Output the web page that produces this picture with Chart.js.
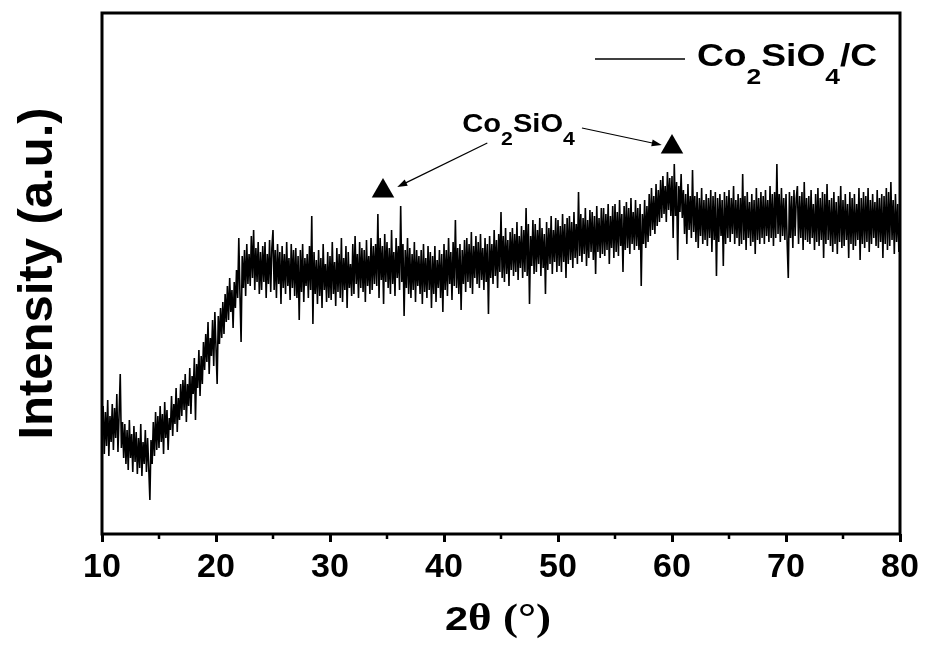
<!DOCTYPE html>
<html>
<head>
<meta charset="utf-8">
<title>Co2SiO4/C XRD</title>
<script src="https://cdn.jsdelivr.net/npm/chart.js@4.4.1/dist/chart.umd.min.js"></script>
<style>
  html, body { margin: 0; padding: 0; background: #fff; }
  canvas { display: block; }
</style>
</head>
<body>
<canvas id="xrd" width="925" height="653"></canvas>
<script>
// 2-theta scan, 10 to 80 deg, one reading every 0.1 deg (intensity in a.u.)
const twoThetaStart = 10;
const twoThetaStep = 0.1;
const intensity = [
  98, 128, 80, 122, 88, 134, 78, 118, 92, 130,      // 10
  84, 126, 96, 140, 82, 120, 160, 86, 112, 76,      // 11
  110, 70, 104, 64, 114, 76, 100, 62, 108, 72,      // 12
  102, 60, 96, 66, 110, 58, 92, 70, 104, 62,        // 13
  96, 66, 34, 94, 70, 112, 78, 122, 84, 118,        // 14
  86, 128, 92, 120, 80, 132, 96, 124, 84, 116,      // 15
  104, 138, 98, 130, 110, 146, 102, 136, 114, 150,  // 16
  118, 154, 124, 160, 112, 150, 128, 166, 120, 158, // 17
  140, 176, 114, 170, 146, 184, 138, 178, 150, 192, // 18
  164, 200, 172, 212, 160, 196, 178, 214, 168, 222, // 19
  186, 150, 218, 190, 226, 196, 232, 200, 240, 212, // 20
  248, 214, 256, 222, 244, 206, 252, 226, 264, 236, // 21
  296, 240, 192, 278, 246, 284, 238, 290, 250, 280, // 22
  248, 298, 256, 304, 244, 286, 252, 292, 240, 282, // 23
  244, 288, 252, 292, 236, 280, 250, 294, 242, 286, // 24
  304, 244, 284, 236, 290, 250, 282, 230, 288, 246, // 25
  280, 240, 292, 248, 276, 234, 290, 246, 284, 238, // 26
  286, 236, 278, 214, 284, 242, 290, 232, 276, 248, // 27
  280, 236, 288, 244, 318, 210, 282, 240, 274, 230, // 28
  284, 238, 276, 226, 290, 244, 270, 232, 282, 236, // 29
  278, 234, 292, 240, 272, 228, 286, 242, 280, 236, // 30
  296, 232, 276, 244, 288, 226, 282, 246, 270, 238, // 31
  290, 240, 298, 250, 280, 236, 292, 246, 286, 242, // 32
  284, 232, 294, 248, 278, 240, 296, 244, 288, 250, // 33
  290, 248, 320, 236, 296, 254, 288, 230, 300, 252, // 34
  292, 246, 286, 240, 304, 250, 282, 238, 296, 256, // 35
  288, 244, 328, 252, 290, 218, 284, 246, 296, 240, // 36
  286, 236, 280, 244, 292, 232, 284, 248, 278, 240, // 37
  284, 230, 290, 242, 276, 236, 288, 244, 282, 226, // 38
  278, 240, 288, 232, 274, 246, 284, 236, 280, 222, // 39
  290, 244, 284, 238, 296, 250, 282, 234, 292, 248, // 40
  314, 246, 286, 240, 290, 224, 284, 250, 294, 242, // 41
  296, 252, 290, 246, 302, 240, 288, 256, 298, 250, // 42
  292, 246, 300, 254, 286, 244, 296, 252, 290, 220, // 43
  298, 256, 290, 250, 304, 258, 294, 246, 300, 262, // 44
  322, 256, 298, 252, 306, 260, 294, 248, 302, 264, // 45
  306, 258, 300, 262, 312, 254, 298, 266, 308, 256, // 46
  304, 262, 326, 258, 310, 230, 298, 268, 314, 260, // 47
  310, 262, 304, 270, 316, 258, 306, 266, 300, 240, // 48
  312, 264, 306, 270, 318, 260, 304, 272, 316, 262, // 49
  314, 268, 308, 262, 320, 272, 310, 256, 316, 270, // 50
  318, 274, 312, 266, 322, 276, 310, 270, 342, 278, // 51
  320, 272, 316, 280, 326, 268, 314, 276, 324, 282, // 52
  322, 274, 318, 260, 328, 282, 316, 276, 326, 280, // 53
  326, 278, 320, 284, 330, 270, 318, 286, 328, 276, // 54
  330, 282, 322, 278, 334, 288, 320, 262, 328, 284, // 55
  332, 286, 326, 280, 336, 290, 322, 284, 334, 288, // 56
  326, 284, 330, 248, 320, 290, 334, 286, 328, 292, // 57
  340, 298, 346, 304, 338, 300, 350, 308, 344, 312, // 58
  354, 316, 358, 320, 348, 312, 362, 324, 356, 318, // 59
  358, 296, 370, 318, 352, 274, 348, 322, 360, 316, // 60
  344, 300, 340, 290, 350, 304, 338, 296, 364, 302, // 61
  338, 292, 342, 286, 336, 298, 346, 290, 334, 294, // 62
  340, 288, 336, 296, 344, 282, 338, 294, 342, 258, // 63
  336, 292, 340, 298, 334, 268, 342, 290, 338, 296, // 64
  344, 292, 336, 300, 348, 290, 334, 296, 340, 288, // 65
  336, 290, 360, 294, 338, 284, 342, 296, 332, 288, // 66
  340, 292, 334, 280, 346, 294, 336, 290, 342, 296, // 67
  338, 290, 344, 298, 334, 292, 348, 296, 340, 288, // 68
  342, 296, 370, 300, 340, 292, 346, 298, 336, 294, // 69
  340, 292, 256, 342, 296, 338, 286, 344, 298, 336, // 70
  348, 290, 338, 296, 342, 284, 352, 294, 336, 292, // 71
  338, 290, 344, 296, 330, 284, 340, 292, 346, 288, // 72
  336, 294, 342, 276, 340, 290, 350, 294, 334, 288, // 73
  336, 282, 342, 290, 332, 280, 338, 292, 348, 286, // 74
  334, 288, 340, 294, 330, 276, 342, 290, 336, 284, // 75
  340, 288, 330, 294, 346, 274, 336, 290, 342, 286, // 76
  338, 292, 346, 282, 334, 290, 340, 296, 332, 288, // 77
  344, 286, 336, 292, 340, 276, 338, 290, 346, 284, // 78
  342, 288, 352, 294, 334, 280, 340, 292, 330, 282, // 79
  312                                                // 80
];

// Co2SiO4 reflections marked with triangles
const peakTheta = [34.65, 60.0];
const peakMarkY = [343, 387];

const xTicks = [10, 20, 30, 40, 50, 60, 70, 80];
const xMinorTicks = [15, 25, 35, 45, 55, 65, 75];

const seriesName = [["Co", false], ["2", true], ["SiO", false], ["4", true], ["/C", false]];
const phaseName = [["Co", false], ["2", true], ["SiO", false], ["4", true]];

const xrdPoints = intensity.map((v, i) => ({ x: +(twoThetaStart + i * twoThetaStep).toFixed(2), y: v }));
const peakPoints = peakTheta.map((t, i) => ({ x: t, y: peakMarkY[i] }));

const SANS = '"Liberation Sans", Arial, sans-serif';
const SERIF = '"Liberation Serif", "Times New Roman", serif';

// where the phase label and its arrows sit, in data units
const phaseNote = {
  text: { x: 41.6, y: 402 },
  arrows: [
    { from: [43.8, 391], to: [35.9, 347] },
    { from: [52.1, 406], to: [59.1, 389] },
  ],
};

function drawFormula(ctx, parts, x, y, size, subSize, subDrop, sx) {
  ctx.save();
  ctx.translate(x, y);
  ctx.scale(sx, 1);
  ctx.textAlign = "left";
  ctx.textBaseline = "alphabetic";
  let cx = 0;
  parts.forEach(([t, sub]) => {
    ctx.font = "bold " + (sub ? subSize : size) + "px " + SANS;
    ctx.fillText(t, cx, sub ? subDrop : 0);
    cx += ctx.measureText(t).width;
  });
  ctx.restore();
}

function drawArrow(ctx, x1, y1, x2, y2) {
  const a = Math.atan2(y2 - y1, x2 - x1);
  ctx.beginPath();
  ctx.moveTo(x1, y1);
  ctx.lineTo(x2 - 6 * Math.cos(a), y2 - 6 * Math.sin(a));
  ctx.stroke();
  ctx.beginPath();
  ctx.moveTo(x2, y2);
  ctx.lineTo(x2 - 10 * Math.cos(a) + 3.5 * Math.sin(a), y2 - 10 * Math.sin(a) - 3.5 * Math.cos(a));
  ctx.lineTo(x2 - 10 * Math.cos(a) - 3.5 * Math.sin(a), y2 - 10 * Math.sin(a) + 3.5 * Math.cos(a));
  ctx.closePath();
  ctx.fill();
}

const decorations = {
  id: "decorations",
  afterDraw(chart) {
    const ctx = chart.ctx;
    const { left, right, top, bottom } = chart.chartArea;
    const xs = chart.scales.x, ys = chart.scales.y;
    ctx.save();
    ctx.strokeStyle = "#000";
    ctx.fillStyle = "#000";

    // frame
    ctx.lineWidth = 3;
    ctx.strokeRect(left, top, right - left, bottom - top);

    // minor ticks
    ctx.lineWidth = 2.5;
    xMinorTicks.forEach(v => {
      const px = xs.getPixelForValue(v);
      ctx.beginPath();
      ctx.moveTo(px, bottom);
      ctx.lineTo(px, bottom + 5);
      ctx.stroke();
    });

    // legend
    ctx.lineWidth = 1.5;
    ctx.beginPath();
    ctx.moveTo(right - 305, top + 46);
    ctx.lineTo(right - 215, top + 46);
    ctx.stroke();
    drawFormula(ctx, seriesName, right - 203, top + 53, 31, 22, 18, 1.2);

    // phase note + arrows
    drawFormula(ctx, phaseName, xs.getPixelForValue(phaseNote.text.x), ys.getPixelForValue(phaseNote.text.y), 26, 19, 13, 1.12);
    ctx.lineWidth = 1.2;
    phaseNote.arrows.forEach(a => {
      drawArrow(ctx,
        xs.getPixelForValue(a.from[0]), ys.getPixelForValue(a.from[1]),
        xs.getPixelForValue(a.to[0]), ys.getPixelForValue(a.to[1]));
    });

    // x title: 2θ (°)
    ctx.textBaseline = "alphabetic";
    ctx.textAlign = "left";
    const f1 = "bold 34px " + SANS, f2 = "bold 37px " + SERIF;
    ctx.font = f1;
    const w1 = ctx.measureText("2").width;
    ctx.font = f2;
    const w2 = ctx.measureText("\u03b8 (\u00b0)").width;
    const sx = 1.22;
    const cx = (left + right) / 2 - 3;
    ctx.translate(cx - (w1 + w2) * sx / 2, 630);
    ctx.scale(sx, 1);
    ctx.font = f1;
    ctx.fillText("2", 0, 0);
    ctx.font = f2;
    ctx.fillText("\u03b8 (\u00b0)", w1, 0);
    ctx.setTransform(1, 0, 0, 1, 0, 0);

    // y title
    ctx.translate(52, (top + bottom) / 2);
    ctx.rotate(-Math.PI / 2);
    ctx.textAlign = "center";
    ctx.font = "bold 49px " + SANS;
    ctx.fillText("Intensity (a.u.)", 0, 0);
    ctx.restore();
  },
};

const ctx = document.getElementById("xrd").getContext("2d");

const xrdChart = new Chart(ctx, {
  type: "line",
  data: {
    datasets: [
      {
        label: "Co2SiO4/C",
        data: xrdPoints,
        borderColor: "#000",
        borderWidth: 1.6,
        pointRadius: 0,
        tension: 0,
      },
      {
        type: "scatter",
        label: "Co2SiO4",
        data: peakPoints,
        pointStyle: "triangle",
        pointRadius: 13,
        backgroundColor: "#000",
        borderColor: "#000",
        borderWidth: 0,
      },
    ],
  },
  options: {
    responsive: false,
    animation: false,
    devicePixelRatio: 1,
    layout: { padding: { left: 102, right: 25, top: 13, bottom: 0 } },
    plugins: {
      legend: { display: false },
      tooltip: { enabled: false },
    },
    scales: {
      x: {
        type: "linear",
        min: 10,
        max: 80,
        afterBuildTicks: (s) => {
          s.ticks = xTicks.map((v) => ({ value: v }));
        },
        afterFit: (s) => {
          s.height = 119;
        },
        border: { display: false },
        grid: {
          drawOnChartArea: false,
          drawTicks: true,
          tickLength: 8,
          tickWidth: 3,
          tickColor: "#000",
        },
        ticks: {
          color: "#000",
          padding: 5,
          maxRotation: 0,
          autoSkip: false,
          font: { family: SANS, size: 34, weight: "bold" },
        },
      },
      y: {
        display: false,
        min: 0,
        max: 521,
      },
    },
  },
  plugins: [decorations],
});
</script>
</body>
</html>
